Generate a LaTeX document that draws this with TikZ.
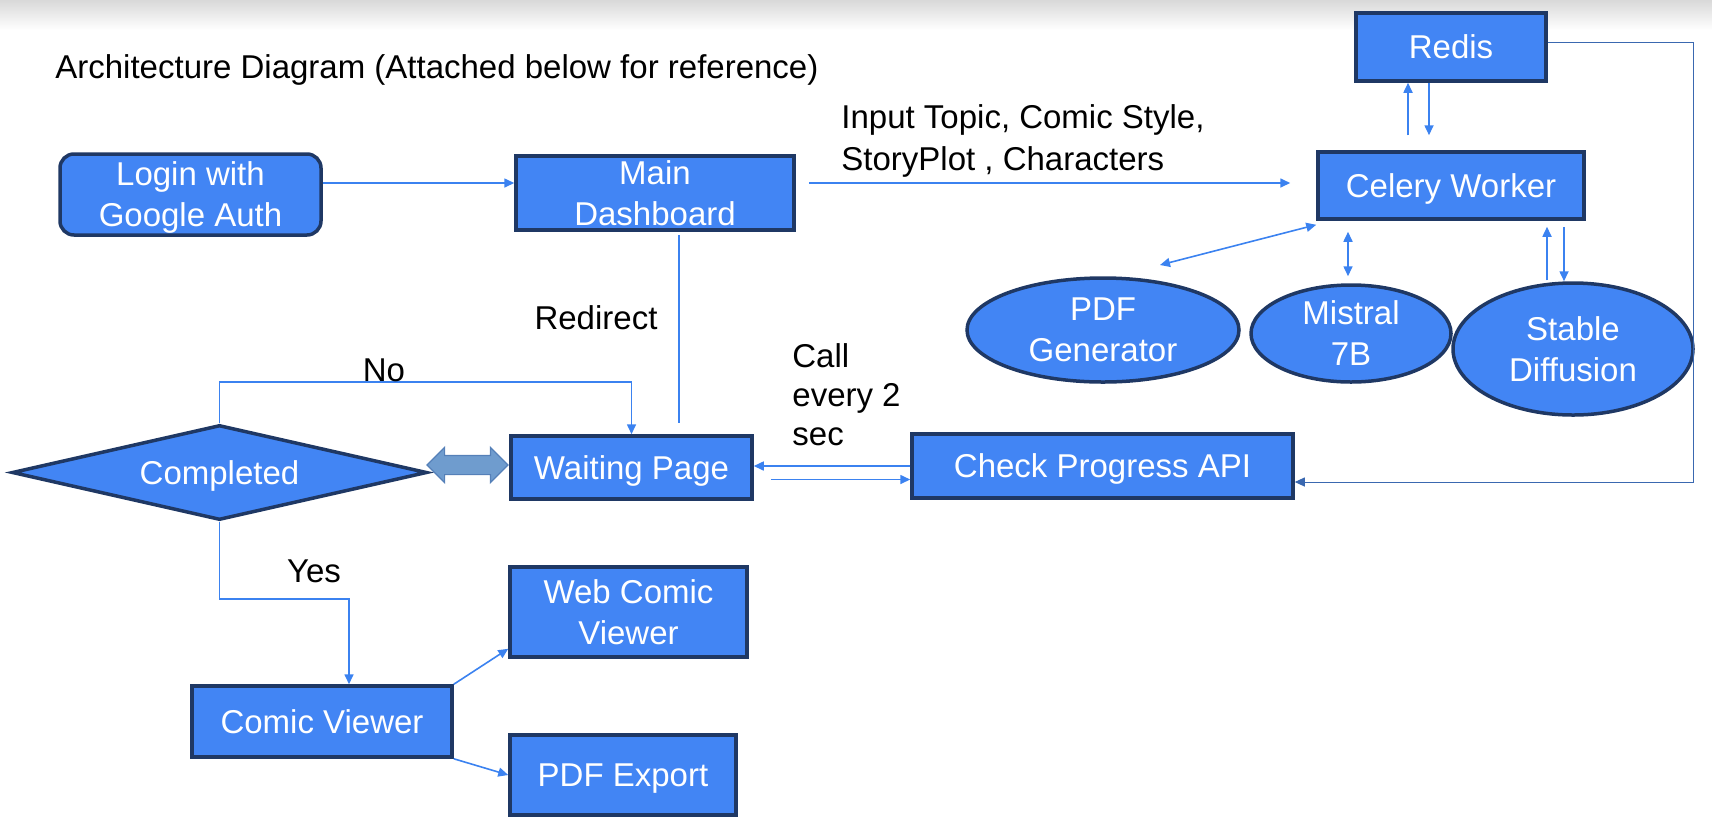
\documentclass[tikz,border=0pt]{standalone}
\usepackage{fontspec}
\setmainfont{Liberation Sans}
\usetikzlibrary{arrows.meta,shapes.geometric,shapes.arrows,calc}
\definecolor{boxfill}{HTML}{4285F4}
\definecolor{boxline}{HTML}{1F3864}
\definecolor{linkblue}{HTML}{3B82F0}
\definecolor{retblue}{HTML}{3A68B0}
\definecolor{arrfill}{HTML}{6F9CCE}
\definecolor{arrline}{HTML}{5580B8}
\tikzset{
  box/.style={rectangle,draw=boxline,line width=1.75pt,fill=boxfill,text=white,align=center,inner sep=0pt,text depth=0pt,font=\fontsize{16.5}{20.5}\selectfont},
  oval/.style={box,ellipse},
  conn/.style={draw=linkblue,line width=0.8pt,>={Triangle[length=5pt,width=4.5pt]},->},
  lbl/.style={font=\fontsize{16.5}{20.5}\selectfont,align=left,inner sep=0pt}
}
\begin{document}
\begin{tikzpicture}[x=0.5pt,y=-0.5pt]
	\useasboundingbox (0,0) rectangle (1712,836);
	\shade[top color=black!15,bottom color=white] (0,0) rectangle (1712,30);
	% Title
	\node[lbl,anchor=base west] (title) at (55,78) {Architecture Diagram (Attached below for reference)};
	% Boxes
	\node[box,rounded corners=7pt,minimum width=130.5pt,minimum height=40.5pt] (login) at (190.5,194.5) {Login with\\Google Auth};
	\node[box,minimum width=139pt,minimum height=37pt] (main) at (655,193) {Main\\Dashboard};
	\node[box,minimum width=95pt,minimum height=34pt] (redis) at (1451,47) {Redis};
	\node[box,minimum width=133pt,minimum height=33.5pt] (celery) at (1451,185.5) {Celery Worker};
	\node[oval,minimum width=136pt,minimum height=52pt] (pdfgen) at (1103,330) {PDF\\Generator};
	\node[oval,minimum width=100pt,minimum height=48.5pt] (mistral) at (1351,333.5) {Mistral\\7B};
	\node[oval,minimum width=120pt,minimum height=66pt] (stable) at (1573,349) {Stable\\Diffusion};
	\node[box,minimum width=120.5pt,minimum height=31.5pt] (waiting) at (631.5,467.5) {Waiting Page};
	\node[box,minimum width=190.5pt,minimum height=32pt] (check) at (1102.5,466) {Check Progress API};
	\node[box,diamond,aspect=4.4,minimum width=207.5pt,minimum height=47.5pt] (completed) at (219.5,472.5) {Completed};
	\node[box,minimum width=130pt,minimum height=35.5pt] (comicv) at (322,721.5) {Comic Viewer};
	\node[box,minimum width=118.5pt,minimum height=45pt] (webv) at (628.5,612) {Web Comic\\Viewer};
	\node[box,minimum width=113pt,minimum height=40pt] (pdfexp) at (623,775) {PDF Export};
	\node[double arrow,draw=arrline,fill=arrfill,line width=0.6pt,minimum height=40.5pt,inner sep=0pt,inner ysep=4.5pt,double arrow head extend=4pt] (dblarrow) at (467.5,465) {};
	%Connectors
	\draw[conn] ([yshift=5.75pt]login.east) -- ([yshift=5pt]main.west);
	\draw[conn,shorten <=6.5pt,shorten >=13pt] ([yshift=5pt]main.east) -- ([yshift=5pt]main.east -| celery.west);
	\draw[conn,shorten <=7.5pt] ([xshift=-21.5pt]celery.north) -- ([xshift=-21.5pt]redis.south);
	\draw[conn,shorten >=7.5pt] ([xshift=-11pt]redis.south) -- ([xshift=-11pt]celery.north);
	\coordinate (pdftip) at (1160,265);
	\draw[conn,<->] ([yshift=-2pt]celery.south west) -- (pdftip);
	\draw[conn,<->,shorten <=5.5pt,shorten >=3.5pt] ([xshift=-51.5pt]celery.south) -- ([xshift=-51.5pt]celery.south |- mistral.north);
	\draw[conn,shorten <=0.5pt,shorten >=3pt] ([xshift=48pt]celery.south |- stable.north) -- ([xshift=48pt]celery.south);
	\draw[conn,shorten <=3pt] ([xshift=56.5pt]celery.south) -- ([xshift=56.5pt]celery.south |- stable.north);
	\coordinate (rcorner) at (1693,482);
	\draw[draw=retblue,line width=0.5pt,-{Triangle[length=5pt,width=4.5pt]}] ([yshift=2.5pt]redis.east) -| (rcorner) -- ([yshift=-8pt]check.east);
	\draw[conn] (check.west) -- (check.west -| waiting.east);
	\draw[conn,shorten <=8.5pt] ([yshift=-6pt]waiting.east) -- ([yshift=-6pt]waiting.east -| check.west);
	\draw[conn,-,shorten <=1.5pt] ([xshift=12pt]main.south) -- ([xshift=12pt,yshift=5.5pt]main.south |- waiting.north);
	\draw[conn] (completed.north) -- ++(0,-41) -| (waiting.north);
	\draw[conn] (completed.south) -- ++(0,77) -| ([xshift=13.5pt]comicv.north);
	\draw[conn] (comicv.north east) -- ([yshift=5pt]webv.south west);
	\draw[conn] (comicv.south east) -- (pdfexp.west);
	%Labels
	\node[lbl,anchor=west,font=\fontsize{16.5}{21}\selectfont] (lblinput) at (841,141) {Input Topic, Comic Style,\\StoryPlot , Characters};
	\node[lbl] (lblredirect) at (596,318) {Redirect};
	\node[lbl,anchor=west,font=\fontsize{16.5}{19.5}\selectfont] (lblcall) at (792,395) {Call\\every 2\\sec};
	\node[lbl] (lblno) at (384,370) {No};
	\node[lbl] (lblyes) at (314,571) {Yes};
\end{tikzpicture}
\end{document}
